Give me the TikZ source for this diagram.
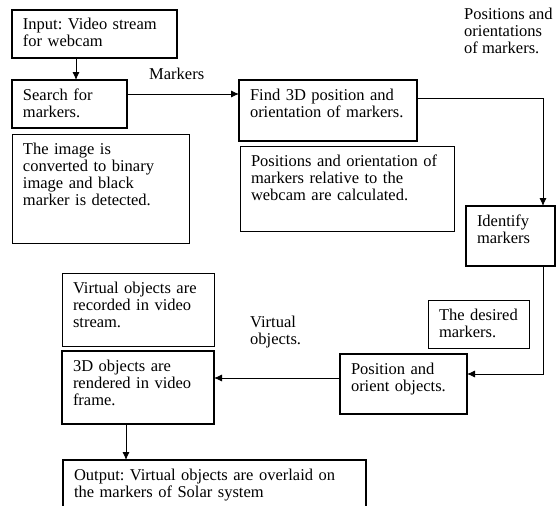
\documentclass[tikz,border=0pt]{standalone}
\usepackage{fontspec}
\setmainfont{Liberation Serif}
\usetikzlibrary{arrows.meta}
\frenchspacing
\tikzset{
  stepbox/.style={draw, line width=2.2pt, outer sep=0pt, anchor=north west, align=left,
    inner xsep=11pt, inner ysep=8pt, text height=12pt, font=\fontsize{16.5}{17}\selectfont},
  notebox/.style={stepbox, line width=0.8pt},
  lbl/.style={anchor=north west, align=left, inner sep=0pt, text height=12pt,
    font=\fontsize{16.5}{17}\selectfont},
  arr/.style={line width=0.8pt, -{Latex[length=8pt,width=7pt]}}
}
\begin{document}
\begin{tikzpicture}[x=1pt,y=-1pt]
				%%%%% START %%%%%
				\clip (0,0) rectangle (560,506);

				\node[stepbox, text width=143pt, text depth=20pt] (input) at (12,10) {Input: Video stream\\for webcam};
				\node[stepbox, text width=93pt, text depth=20pt] (search) at (12,80) {Search for\\markers.};
				\node[notebox, text width=155pt, text depth=81pt] (imgnote) at (12,134) {The image is\\converted to binary\\image and black\\marker is detected.};

				\node[stepbox, text width=156pt, text depth=33pt] (find) at (239,80) {Find 3D position and\\orientation of markers.};
				\node[notebox, text width=192pt, text depth=57pt] (posnote) at (240,146) {Positions and orientation of\\markers relative to the\\webcam are calculated.};

				\node[stepbox, text width=67pt, text depth=32pt] (ident) at (466,206) {Identify\\markers};
				\node[notebox, text width=79pt, text depth=20pt] (desired) at (428,300) {The desired\\markers.};
				\node[stepbox, text width=105pt, text depth=32pt] (orient) at (340,354) {Position and\\orient objects.};

				\node[notebox, text width=130pt, text depth=45pt] (recnote) at (62,273) {Virtual objects are\\recorded in video\\stream.};
				\node[stepbox, text width=130pt, text depth=45pt] (render) at (62,351) {3D objects are\\rendered in video\\frame.};
				\node[stepbox, text width=281pt, text depth=32pt] (output) at (63,460) {Output: Virtual objects are overlaid on\\the markers of Solar system};

				\node[lbl] (markers) at (149,67) {Markers};
				\node[lbl] (posori) at (464,41) {Positions and\\orientations\\of markers.};
				\node[lbl] (virt) at (250,332) {Virtual\\objects.};

				\draw[arr] ([xshift=64pt]input.south west) -- ([xshift=64pt]search.north west);
				\draw[arr] ([yshift=-14pt]search.north east) -- ([yshift=-14pt]find.north west);
				\draw[arr] ([yshift=-18pt]find.north east) -| ([xshift=77pt]ident.north west);
				\draw[arr] ([xshift=77pt]ident.south west) |- ([yshift=-20pt]orient.north east);
				\draw[arr] ([yshift=-24pt]orient.north west) coordinate (o) -- (o -| render.east);
				\draw[arr] ([xshift=64pt]render.south west) -- ([xshift=63pt]output.north west);
				%%%%% START %%%%%
\end{tikzpicture}
\end{document}
